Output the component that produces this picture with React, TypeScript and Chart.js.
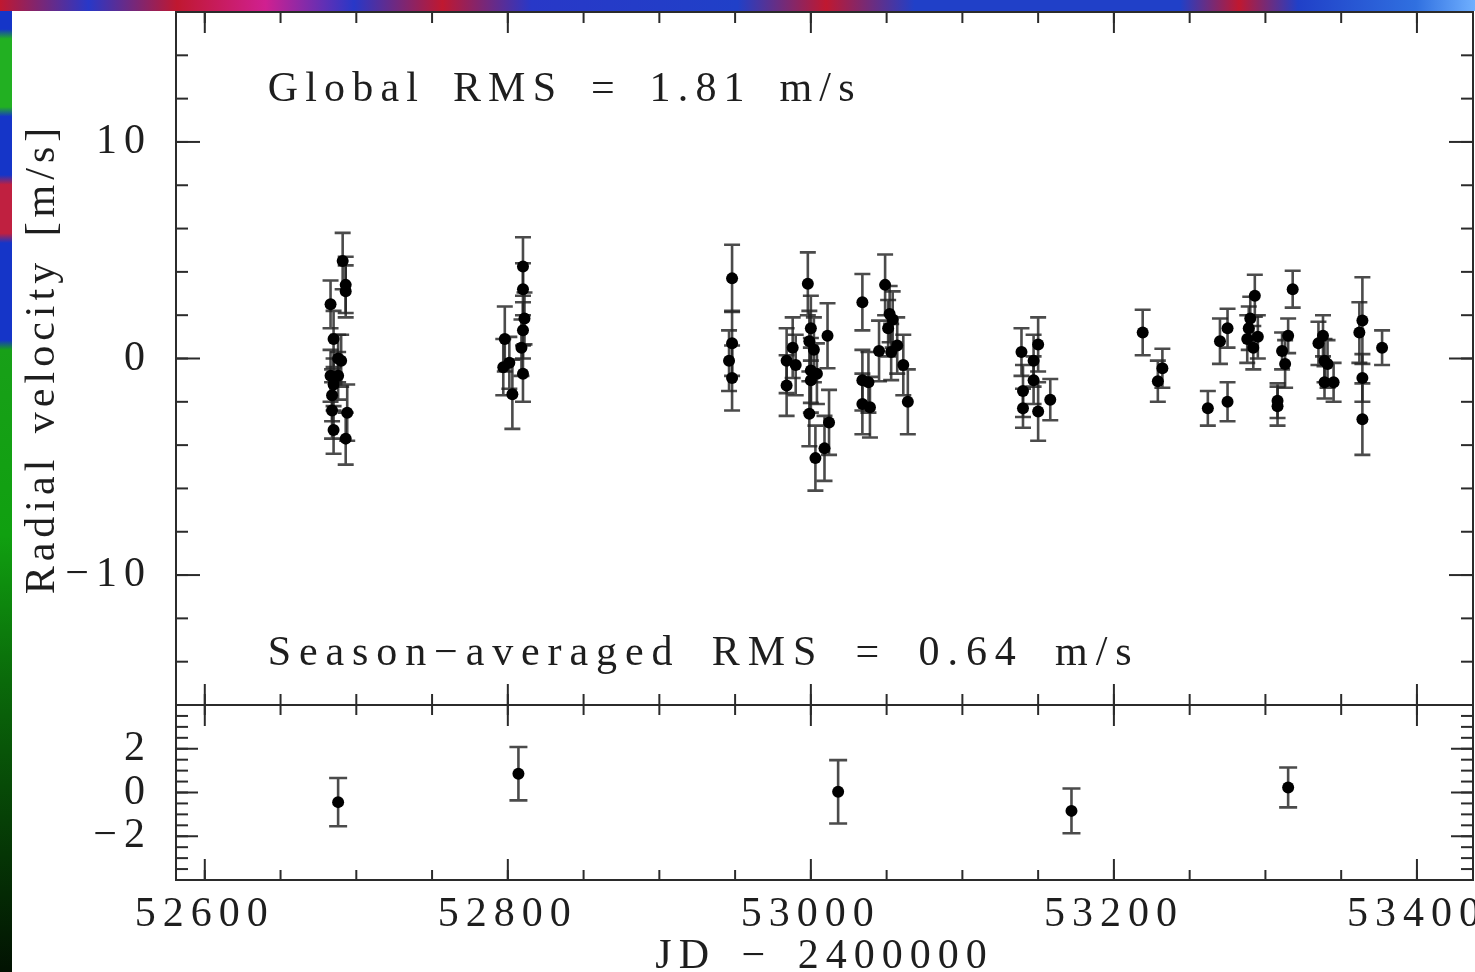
import React, { useEffect, useRef } from 'react';
import { Chart, registerables } from 'chart.js';

Chart.register(...registerables);

const FONT_FAMILY = '"Liberation Serif", "Times New Roman", serif';
const TEXT_COLOR = '#1e1e1e';
const FRAME_COLOR = '#2b2b2b';
const BAR_COLOR = 'rgba(35,35,35,0.82)';

// ---- Individual radial velocities (JD - 2400000, m/s, error m/s) ----
const jd = [
  // season 1
  52691, 52693, 52693, 52683, 52685, 52690, 52688, 52683, 52688, 52685, 52684, 52684, 52694, 52685, 52693,
  // season 2
  52810, 52810, 52811, 52810, 52798, 52809, 52797, 52801, 52810, 52803,
  // season 3
  52948, 52948, 52946, 52948,
  52998, 52988, 52984, 52990, 52984, 53000, 52999, 53002, 53011, 53000, 53004, 53000, 52999, 53012, 53009, 53003,
  53034, 53049, 53052, 53054, 53051, 53045, 53053, 53057, 53061, 53034, 53038, 53034, 53039, 53064,
  // season 4
  53139, 53150, 53147, 53147, 53140, 53158, 53140, 53150,
  // season 5
  53219, 53232, 53229, 53262, 53275, 53270, 53275, 53293, 53290, 53289, 53288, 53295, 53292, 53318, 53315,
  53311, 53313, 53308, 53308, 53338, 53335, 53339, 53341, 53339, 53345, 53364, 53362, 53364, 53364, 53377,
];
const rv = [
  4.5, 3.4, 3.1, 2.5, 0.9, -0.1, 0.0, -0.8, -0.8, -1.2, -1.7, -2.4, -2.5, -3.3, -3.7,
  4.25, 3.2, 1.85, 1.3, 0.9, 0.5, -0.4, -0.2, -0.7, -1.65,
  3.7, 0.7, -0.1, -0.9,
  3.45, 0.5, -0.1, -0.3, -1.25, 1.4, 0.8, 0.4, 1.05, -0.55, -0.7, -1.0, -2.55, -2.95, -4.15, -4.6,
  2.6, 3.4, 2.05, 1.8, 1.4, 0.35, 0.3, 0.6, -0.3, -1.0, -1.1, -2.1, -2.25, -2.0,
  0.3, 0.65, -0.1, -1.0, -1.5, -1.9, -2.3, -2.45,
  1.2, -0.45, -1.05, -2.3, -2.0, 0.8, 1.4, 2.9, 1.85, 1.4, 0.9, 1.0, 0.5, 3.2, 1.05,
  0.35, -0.25, -1.95, -2.2, 1.05, 0.7, -0.1, -0.25, -1.1, -1.1, 1.75, 1.2, -0.9, -2.8, 0.5,
];
const rvErr = [
  1.3, 1.3, 1.2, 1.1, 1.3, 1.2, 1.1, 1.2, 1.1, 1.2, 1.2, 1.3, 1.3, 1.1, 1.2,
  1.35, 1.2, 1.2, 1.3, 1.5, 1.3, 1.3, 1.2, 1.3, 1.6,
  1.55, 1.5, 1.4, 1.5,
  1.45, 1.4, 1.5, 1.4, 1.4, 1.5, 1.4, 1.5, 1.5, 1.5, 1.4, 1.5, 1.5, 1.5, 1.5, 1.5,
  1.3, 1.4, 1.3, 1.3, 1.3, 1.4, 1.3, 1.3, 1.4, 1.4, 1.4, 1.4, 1.4, 1.5,
  1.1, 1.25, 1.2, 1.1, 1.2, 0.95, 0.9, 1.35,
  1.05, 0.9, 0.95, 0.8, 0.9, 1.05, 0.9, 0.97, 1.0, 1.0, 1.1, 1.0, 1.0, 0.85, 0.8,
  0.85, 1.1, 0.8, 0.9, 0.95, 1.0, 1.0, 1.1, 0.75, 0.9, 2.0, 1.4, 1.1, 1.65, 0.8,
];

// ---- Season-averaged values ----
const avgJd = [52688, 52807, 53018, 53172, 53315];
const avgRv = [-0.44, 0.86, 0.03, -0.84, 0.23];
const avgErr = [1.1, 1.22, 1.45, 1.02, 0.91];

// ---- Axes ----
const xRange = [52581, 53437];
const topRange = [-16, 16];
const bottomRange = [-4, 4];
const xTickValues = [52600, 52800, 53000, 53200, 53400];
const topTickValues = [-10, 0, 10];
const bottomTickValues = [-2, 0, 2];
const xTickSteps = [200, 50];
const topTickSteps = [10, 2];
const bottomTickSteps = [2, 0.5];

// ---- Texts ----
const globalNote = 'Global RMS = 1.81 m/s';
const seasonNote = 'Season\u2212averaged RMS = 0.64 m/s';
const notePositions: [number, number][] = [
  [52641.5, 11.9],
  [52641.5, -14.15],
];
const yTitle = 'Radial velocity [m/s]';
const xTitle = 'JD \u2212 2400000';

const fmt = (v: number) => (v < 0 ? '\u2212' + Math.abs(v) : String(v));

const spacingPlugin = {
  id: 'spacing',
  beforeDraw(chart: any) {
    chart.ctx.letterSpacing = '7px';
    chart.ctx.wordSpacing = '8px';
  },
};

function makeErrorBarPlugin(errors: number[], cap: number) {
  return {
    id: 'errorBars',
    beforeDatasetsDraw(chart: any) {
      const { ctx } = chart;
      const x = chart.scales.x;
      const y = chart.scales.y;
      const pts = chart.data.datasets[0].data as { x: number; y: number }[];
      ctx.save();
      ctx.strokeStyle = BAR_COLOR;
      ctx.lineWidth = 2.6;
      pts.forEach((p, i) => {
        const px = x.getPixelForValue(p.x);
        const y1 = y.getPixelForValue(p.y + errors[i]);
        const y2 = y.getPixelForValue(p.y - errors[i]);
        ctx.beginPath();
        ctx.moveTo(px, y1);
        ctx.lineTo(px, y2);
        ctx.moveTo(px - cap, y1);
        ctx.lineTo(px + cap, y1);
        ctx.moveTo(px - cap, y2);
        ctx.lineTo(px + cap, y2);
        ctx.stroke();
      });
      ctx.restore();
    },
  };
}

function makeFramePlugin(ySteps: number[], yLens: number[], xLens: number[]) {
  return {
    id: 'frame',
    afterDraw(chart: any) {
      const { ctx, chartArea } = chart;
      const { left, right, top, bottom } = chartArea;
      const x = chart.scales.x;
      const y = chart.scales.y;
      ctx.save();
      ctx.strokeStyle = FRAME_COLOR;
      ctx.lineWidth = 2;
      ctx.strokeRect(left, top, right - left, bottom - top);
      const seg = (a: number, b: number, c: number, d: number) => {
        ctx.beginPath();
        ctx.moveTo(a, b);
        ctx.lineTo(c, d);
        ctx.stroke();
      };
      [0, 1].forEach((k) => {
        const step = xTickSteps[k];
        const len = xLens[k];
        for (let v = Math.ceil(x.min / step) * step; v <= x.max + 1e-9; v += step) {
          const px = x.getPixelForValue(v);
          seg(px, top, px, top + len);
          seg(px, bottom, px, bottom - len);
        }
        const ystep = ySteps[k];
        const ylen = yLens[k];
        for (let v = Math.ceil(y.min / ystep) * ystep; v <= y.max + 1e-9; v += ystep) {
          const py = y.getPixelForValue(v);
          seg(left, py, left + ylen, py);
          seg(right, py, right - ylen, py);
        }
      });
      ctx.restore();
    },
  };
}

const topTextPlugin = {
  id: 'topText',
  afterDraw(chart: any) {
    const { ctx, chartArea } = chart;
    const x = chart.scales.x;
    const y = chart.scales.y;
    ctx.save();
    ctx.fillStyle = TEXT_COLOR;
    ctx.font = `42px ${FONT_FAMILY}`;
    ctx.textAlign = 'left';
    ctx.textBaseline = 'alphabetic';
    ctx.letterSpacing = '7.2px';
    ctx.wordSpacing = '10px';
    ctx.fillText(globalNote, x.getPixelForValue(notePositions[0][0]), y.getPixelForValue(notePositions[0][1]));
    ctx.letterSpacing = '7.9px';
    ctx.wordSpacing = '13px';
    ctx.fillText(seasonNote, x.getPixelForValue(notePositions[1][0]), y.getPixelForValue(notePositions[1][1]));
    // y-axis title
    ctx.letterSpacing = '5px';
    ctx.wordSpacing = '6px';
    ctx.translate(54, (chartArea.top + chartArea.bottom) / 2);
    ctx.rotate(-Math.PI / 2);
    ctx.textAlign = 'center';
    ctx.fillText(yTitle, 0, 0);
    ctx.restore();
  },
};

function yScale(range: number[], ticks: number[]) {
  return {
    type: 'linear' as const,
    min: range[0],
    max: range[1],
    afterBuildTicks: (s: any) => {
      s.ticks = ticks.map((v) => ({ value: v }));
    },
    afterFit: (s: any) => {
      s.width = 176;
      s.paddingTop = 0;
      s.paddingBottom = 0;
      s.paddingLeft = 0;
      s.paddingRight = 0;
    },
    grid: { display: false, drawTicks: false },
    border: { display: false },
    ticks: {
      font: { family: FONT_FAMILY, size: 42 },
      color: TEXT_COLOR,
      padding: 24,
      callback: (v: any) => fmt(Number(v)),
    },
  };
}

export default function App() {
  const topRef = useRef<HTMLCanvasElement>(null);
  const botRef = useRef<HTMLCanvasElement>(null);

  useEffect(() => {
    const common = {
      animation: false as const,
      responsive: false,
      events: [] as any[],
    };
    const top = new Chart(topRef.current!, {
      type: 'scatter',
      data: {
        datasets: [
          {
            data: jd.map((v, i) => ({ x: v, y: rv[i] })),
            pointRadius: 6,
            pointHoverRadius: 6,
            pointBackgroundColor: '#000',
            pointBorderWidth: 0,
          },
        ],
      },
      options: {
        ...common,
        layout: { autoPadding: false, padding: { left: 0, top: 12, right: 2, bottom: 2 } },
        plugins: { legend: { display: false }, tooltip: { enabled: false } },
        scales: {
          x: { type: 'linear', min: xRange[0], max: xRange[1], display: false },
          y: yScale(topRange, topTickValues) as any,
        },
      },
      plugins: [
        spacingPlugin,
        makeErrorBarPlugin(rvErr, 8),
        makeFramePlugin(topTickSteps, [24, 12], [21, 11]),
        topTextPlugin,
      ],
    } as any);

    const bot = new Chart(botRef.current!, {
      type: 'scatter',
      data: {
        datasets: [
          {
            data: avgJd.map((v, i) => ({ x: v, y: avgRv[i] })),
            pointRadius: 6,
            pointHoverRadius: 6,
            pointBackgroundColor: '#000',
            pointBorderWidth: 0,
          },
        ],
      },
      options: {
        ...common,
        layout: { autoPadding: false, padding: { left: 0, top: 2, right: 2, bottom: 0 } },
        plugins: { legend: { display: false }, tooltip: { enabled: false } },
        scales: {
          x: {
            type: 'linear',
            min: xRange[0],
            max: xRange[1],
            afterBuildTicks: (s: any) => {
              s.ticks = xTickValues.map((v) => ({ value: v }));
            },
            afterFit: (s: any) => {
              s.height = 113;
              s.paddingLeft = 0;
              s.paddingRight = 0;
              s.paddingTop = 0;
              s.paddingBottom = 0;
            },
            grid: { display: false, drawTicks: false },
            border: { display: false },
            ticks: {
              font: { family: FONT_FAMILY, size: 42 },
              color: TEXT_COLOR,
              padding: 10,
              maxRotation: 0,
              autoSkip: false,
              callback: (v: any) => String(v),
            },
            title: {
              display: true,
              text: xTitle,
              font: { family: FONT_FAMILY, size: 42 },
              color: TEXT_COLOR,
              padding: { top: 0, bottom: 11 },
            },
          },
          y: yScale(bottomRange, bottomTickValues) as any,
        },
      },
      plugins: [
        spacingPlugin,
        makeErrorBarPlugin(avgErr, 9),
        makeFramePlugin(bottomTickSteps, [22, 12], [21, 10]),
      ],
    } as any);

    return () => {
      top.destroy();
      bot.destroy();
    };
  }, []);

  return (
    <div
      style={{
        position: 'fixed',
        left: 0,
        top: 0,
        width: 1475,
        height: 972,
        overflow: 'hidden',
        background: '#ffffff',
      }}
    >
      <canvas
        ref={topRef}
        width={1475}
        height={707}
        style={{ position: 'absolute', left: 0, top: 0, width: 1475, height: 707 }}
      />
      <canvas
        ref={botRef}
        width={1475}
        height={290}
        style={{ position: 'absolute', left: 0, top: 703, width: 1475, height: 290 }}
      />
      <div
        style={{
          position: 'absolute',
          left: 0,
          top: 0,
          width: 12,
          height: 972,
          background:
            'linear-gradient(to bottom, #1535c8 0%, #1535c8 3%, #22b022 4%, #22b022 11%, #1535c8 12%, #1535c8 18%, #c02040 19%, #c02040 24%, #1535c8 25%, #1535c8 35%, #18a018 36%, #10a010 55%, #0a6a0a 70%, #053505 88%, #021202 100%)',
        }}
      />
      <div
        style={{
          position: 'absolute',
          left: 0,
          top: 0,
          width: 1475,
          height: 11,
          background:
            'linear-gradient(to right, #c01830 0%, #2838c8 6%, #c01830 12%, #d02090 18%, #2838c8 24%, #c01830 30%, #2838c8 36%, #2040c8 50%, #c01830 56%, #2040c8 62%, #2040c8 80%, #c01830 84%, #2040c8 88%, #3070e0 96%, #70b0ff 100%)',
        }}
      />
    </div>
  );
}
